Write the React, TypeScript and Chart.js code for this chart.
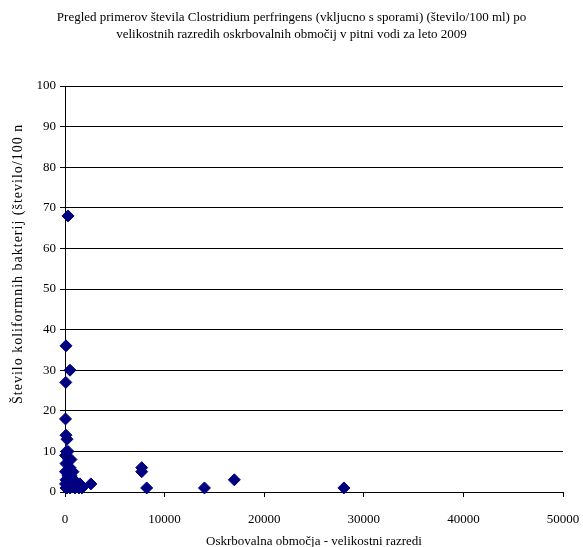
import React, { useEffect, useRef } from "react";
import { Chart, registerables } from "chart.js";

Chart.register(...registerables);

const chartTitle = [
  "Pregled primerov števila Clostridium perfringens (vkljucno s sporami) (število/100 ml) po",
  "velikostnih razredih oskrbovalnih območij v pitni vodi za leto 2009",
];
const xTitle = "Oskrbovalna območja - velikostni razredi";
const yTitle = "Število koliformnih bakterij (število/100 n";

// size of supply area (x) and count per sample (y)
const areaSize = [
  300, 100, 500, 80, 50, 100, 200, 150, 300, 600, 50, 400, 100, 500, 200, 800,
  50, 300, 600, 100, 400, 900, 1200, 50, 300, 700, 1500, 100, 500, 1000, 1400,
  200, 1700, 2600, 7700, 7700, 8200, 14000, 17000, 28000,
];
const counts = [
  68, 36, 30, 27, 18, 14, 13, 10, 10, 8, 9, 8, 7, 6, 5, 5,
  5, 4, 4, 3, 3, 3, 2, 2, 2, 2, 2, 1, 1, 1, 1,
  1, 1, 2, 6, 5, 1, 1, 3, 1,
];

const serif = "'Liberation Serif', 'Times New Roman', serif";

// Two-line heading centred on the canvas, and the rotated y-axis caption
const captions = {
  id: "captions",
  afterDraw(chart: any) {
    const ctx = chart.ctx as CanvasRenderingContext2D;
    ctx.save();
    ctx.fillStyle = "#000";
    ctx.font = `13px ${serif}`;
    ctx.textAlign = "center";
    ctx.textBaseline = "middle";
    chartTitle.forEach((line, i) => ctx.fillText(line, chart.width / 2, 18 + i * 17));

    ctx.font = `14px ${serif}`;
    (ctx as any).letterSpacing = "1px";
    ctx.textAlign = "left";
    ctx.translate(18, 404);
    ctx.rotate(-Math.PI / 2);
    ctx.fillText(yTitle, 0, 0);
    ctx.restore();
  },
};

export default function App() {
  const ref = useRef<HTMLCanvasElement>(null);

  useEffect(() => {
    if (!ref.current) return;
    const points = areaSize.map((x, i) => ({ x, y: counts[i] }));
    const chart = new Chart(ref.current, {
      type: "scatter",
      data: {
        datasets: [
          {
            data: points,
            pointStyle: "rectRot",
            pointRadius: 6,
            backgroundColor: "#000080",
            borderColor: "#000080",
            borderWidth: 1,
            clip: false,
          },
        ],
      },
      plugins: [captions],
      options: {
        animation: false,
        responsive: false,
        layout: { padding: { left: 0, right: 20, top: 86, bottom: 0 } },
        plugins: {
          legend: { display: false },
          tooltip: { enabled: false },
          title: { display: false },
        },
        scales: {
          x: {
            type: "linear",
            min: 0,
            max: 50000,
            ticks: {
              stepSize: 10000,
              color: "#000",
              font: { family: serif, size: 13 },
              padding: 15,
              maxRotation: 0,
              callback: (v: any) => String(v),
            },
            grid: {
              drawOnChartArea: false,
              drawTicks: true,
              tickLength: 5,
              color: "#000",
            },
            border: { display: true, color: "#000" },
            title: {
              display: true,
              text: xTitle,
              color: "#000",
              font: { family: serif, size: 13 },
              padding: { top: 4, bottom: -2 },
            },
            afterFit: (scale: any) => {
              scale.height = 55;
              scale.paddingLeft = 0;
              scale.paddingRight = 0;
            },
          },
          y: {
            min: 0,
            max: 100,
            ticks: {
              stepSize: 10,
              color: "#000",
              font: { family: serif, size: 13 },
              padding: 4,
            },
            grid: {
              color: "#000",
              tickLength: 5,
              drawTicks: true,
            },
            border: { display: true, color: "#000" },
            afterFit: (scale: any) => {
              scale.width = 65;
              scale.paddingTop = 0;
              scale.paddingBottom = 0;
            },
          },
        },
      },
    });
    return () => chart.destroy();
  }, []);

  return (
    <div style={{ position: "absolute", left: 0, top: 0, width: 583, height: 547, background: "#fff" }}>
      <canvas ref={ref} width={583} height={547} style={{ display: "block" }} />
    </div>
  );
}
